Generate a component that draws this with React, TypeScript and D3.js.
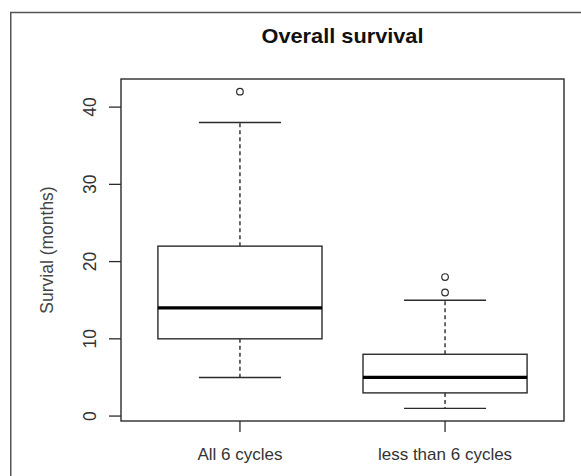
import * as d3 from 'd3';
import React from 'react';

// box plot data (months)
const groups = ['All 6 cycles', 'less than 6 cycles'];
const lowerWhisker = [5, 1];
const q1 = [10, 3];
const medians = [14, 5];
const q3 = [22, 8];
const upperWhisker = [38, 15];
const outliers = [[42], [16, 18]];
const yTicks = [0, 10, 20, 30, 40];

const W = 581;
const H = 476;
const font = '"Liberation Sans", Arial, sans-serif';
const ink = '#2b2b2b';

export default function App() {
	// R-style extended ranges
	const x = d3.scaleLinear().domain([0.42, 2.58]).range([121, 564]);
	const y = d3.scaleLinear().domain([-0.64, 43.64]).range([421, 79]);

	const boxHalf = x(1.4) - x(1);
	const capHalf = x(1.2) - x(1);

	return (
		<svg width={W} height={H} style={{ position: 'absolute', left: 0, top: 0, background: '#fff' }} fontFamily={font}>
			{/* outer frame */}
			<rect x={10.75} y={12.5} width={W} height={H} fill="none" stroke="#555" strokeWidth={1.5} />

			<text x={(x.range()[0] + x.range()[1]) / 2} y={42.5} textAnchor="middle" fontSize={21} fontWeight="bold" fill="#111"
				textLength={162} lengthAdjust="spacingAndGlyphs">
				Overall survival
			</text>

			{/* plot box */}
			<rect x={x.range()[0]} y={y.range()[1]} width={x.range()[1] - x.range()[0]} height={y.range()[0] - y.range()[1]}
				fill="none" stroke={ink} strokeWidth={1.4} />

			{/* y axis */}
			<g>
				{yTicks.map((t) => (
					<g key={t}>
						<line x1={109} x2={x.range()[0]} y1={y(t)} y2={y(t)} stroke={ink} strokeWidth={1.3} />
						<text transform={`translate(96,${y(t)}) rotate(-90)`} textAnchor="middle" fontSize={17.5} fill="#333">{t}</text>
					</g>
				))}
				<text transform={`translate(53,${(y.range()[0] + y.range()[1]) / 2}) rotate(-90)`} textAnchor="middle" fontSize={17.5} fill="#444">
					Survial (months)
				</text>
			</g>

			{/* x axis */}
			{groups.map((g, i) => (
				<g key={g}>
					<line x1={x(i + 1)} x2={x(i + 1)} y1={y.range()[0]} y2={y.range()[0] + 11} stroke={ink} strokeWidth={1.3} />
					<text x={x(i + 1)} y={460} textAnchor="middle" fontSize={17} fill="#333">{g}</text>
				</g>
			))}

			{/* boxes */}
			{groups.map((g, i) => {
				const cx = x(i + 1);
				return (
					<g key={'box' + i} stroke={ink} fill="none">
						<line x1={cx} x2={cx} y1={y(q3[i])} y2={y(upperWhisker[i])} strokeDasharray="4,3" strokeWidth={1.4} />
						<line x1={cx} x2={cx} y1={y(q1[i])} y2={y(lowerWhisker[i])} strokeDasharray="4,3" strokeWidth={1.4} />
						<line x1={cx - capHalf} x2={cx + capHalf} y1={y(upperWhisker[i])} y2={y(upperWhisker[i])} strokeWidth={1.4} />
						<line x1={cx - capHalf} x2={cx + capHalf} y1={y(lowerWhisker[i])} y2={y(lowerWhisker[i])} strokeWidth={1.4} />
						<rect x={cx - boxHalf} y={y(q3[i])} width={boxHalf * 2} height={y(q1[i]) - y(q3[i])} fill="#fff" strokeWidth={1.4} />
						<line x1={cx - boxHalf} x2={cx + boxHalf} y1={y(medians[i])} y2={y(medians[i])} stroke="#000" strokeWidth={3.2} />
						{outliers[i].map((o) => (
							<circle key={o} cx={cx} cy={y(o)} r={3.3} strokeWidth={1.2} fill="#fff" />
						))}
					</g>
				);
			})}
		</svg>
	);
}
